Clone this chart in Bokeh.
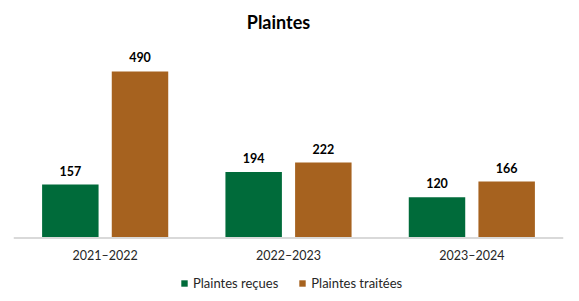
from bokeh.plotting import figure
from bokeh.models import ColumnDataSource, FactorRange, Range1d, Legend, LegendItem, Span
from bokeh.transform import dodge
from bokeh.core.properties import value
from bokeh.embed import file_html
from bokeh.resources import INLINE

categories = ["2021\u20132022", "2022\u20132023", "2023\u20132024"]
recues = [157, 194, 120]
traitees = [490, 222, 166]
series_names = ["Plaintes re\u00e7ues", "Plaintes trait\u00e9es"]
title_text = "Plaintes"

GREEN = "#006B3A"
BROWN = "#A6621F"
FONT = "Lato"

src = ColumnDataSource(dict(
    cat=categories,
    zero=[0] * len(categories),
    recues=recues,
    traitees=traitees,
    recues_lbl=[str(v) for v in recues],
    traitees_lbl=[str(v) for v in traitees],
))

p = figure(width=579, height=301, output_backend="svg", toolbar_location=None,
           title=None,
           x_range=FactorRange(factors=categories), y_range=Range1d(-186.8, 698.5),
           min_border_left=13, min_border_right=16, min_border_top=0,
           min_border_bottom=0)

off = 0.19
w = 0.308
r1 = p.vbar(x=dodge("cat", -off, range=p.x_range), top="recues", width=w, source=src,
            fill_color=GREEN, line_color=None)
r2 = p.vbar(x=dodge("cat", off, range=p.x_range), top="traitees", width=w, source=src,
            fill_color=BROWN, line_color=None)

for col, o in (("recues", -off), ("traitees", off)):
    p.text(x=dodge("cat", o, range=p.x_range), y=col, text=col + "_lbl", source=src,
           text_font=value(FONT), text_font_size="12.5px", text_font_style="bold",
           text_align="center", text_baseline="middle", y_offset=-14,
           text_color="#000000")

p.add_layout(Span(location=0, dimension="width", line_color="#D9D9D9", line_width=2))

p.text(x="cat", y="zero", text="cat", source=src,
       text_font=value(FONT), text_font_size="12.5px",
       text_align="center", text_baseline="middle", y_offset=18,
       text_color="#262626")

# chart title, anchored to the top of the frame
p.text(x=[categories[1]], y=[p.y_range.end], text=[title_text],
       text_font=value(FONT), text_font_size="18px", text_font_style="bold",
       text_align="center", text_baseline="alphabetic", x_offset=-10, y_offset=21,
       text_color="#000000")

p.xaxis.visible = False
p.yaxis.visible = False
p.xgrid.visible = False
p.ygrid.visible = False
p.outline_line_color = None

legend = Legend(items=[LegendItem(label=series_names[0], renderers=[r1]),
                       LegendItem(label=series_names[1], renderers=[r2])],
                orientation="horizontal", location=(167, 10),
                glyph_width=8, glyph_height=8, label_standoff=5, spacing=20,
                label_text_font=FONT, label_text_font_size="13px",
                label_text_color="#262626", border_line_color=None,
                background_fill_alpha=0, padding=0, margin=0)
p.add_layout(legend)

open("out.html", "w").write(file_html(p, INLINE))
